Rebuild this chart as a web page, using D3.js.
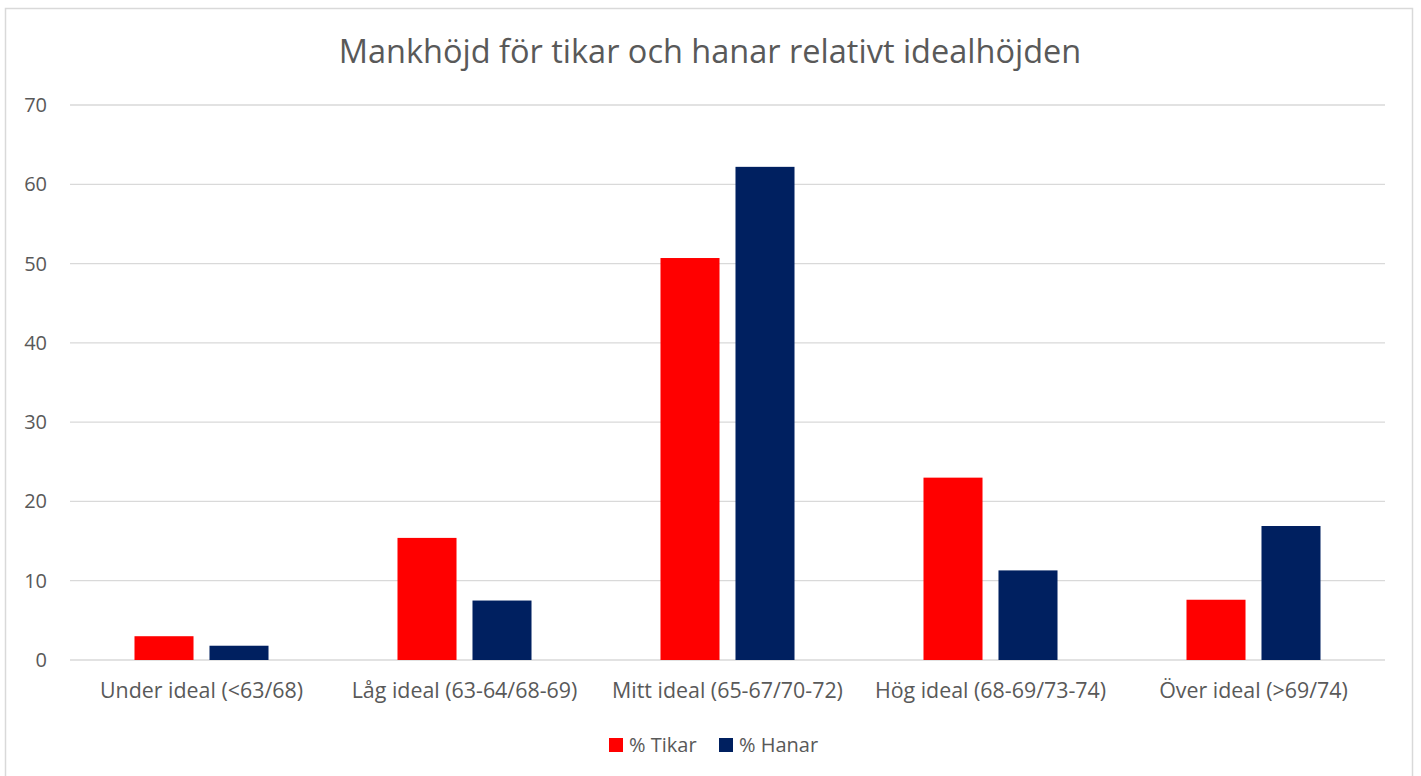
<html>
  <head>
    <style>
      body {
        margin: 0;
        background: #fff;
      }
      text {
        font-family: "Open Sans", sans-serif;
        fill: #595959;
      }
    </style>
  </head>
  <body>
    <script src="https://d3js.org/d3.v7.min.js"></script>
    <script>
      var width = 1421, height = 776;

      var categories = ["Under ideal (<63/68)", "Låg ideal (63-64/68-69)", "Mitt ideal (65-67/70-72)", "Hög ideal (68-69/73-74)", "Över ideal (>69/74)"];
      var seriesNames = ["% Tikar", "% Hanar"];
      var tikar = [3.0, 15.4, 50.7, 23.0, 7.6];
      var hanar = [1.8, 7.5, 62.2, 11.3, 16.9];
      var yTicks = [0, 10, 20, 30, 40, 50, 60, 70];
      var colors = ["#ff0000", "#002060"];
      var title = "Mankhöjd för tikar och hanar relativt idealhöjden";

      var margin = {left: 70, right: 36, top: 105, bottom: 116};

      var svg = d3.select("body").append("svg")
          .attr("width", width)
          .attr("height", height);

      // chart frame
      svg.append("rect")
          .attr("x", 5.5)
          .attr("y", 8.5)
          .attr("width", 1407)
          .attr("height", 780)
          .attr("fill", "none")
          .attr("stroke", "#d9d9d9")
          .attr("stroke-width", 1.5);

      var x0 = d3.scaleBand()
          .domain(categories)
          .range([margin.left, width - margin.right]);

      var x1 = d3.scaleBand()
          .domain(seriesNames)
          .range([0, x0.bandwidth()])
          .paddingInner(0.213)
          .paddingOuter(0.86);

      var y = d3.scaleLinear()
          .domain([0, 70])
          .range([height - margin.bottom, margin.top]);

      // gridlines
      svg.append("g")
          .selectAll("line")
          .data(yTicks)
        .enter().append("line")
          .attr("x1", margin.left)
          .attr("x2", width - margin.right)
          .attr("y1", function(d){ return y(d); })
          .attr("y2", function(d){ return y(d); })
          .attr("stroke", "#d9d9d9")
          .attr("stroke-width", 1.3);

      // y tick labels
      svg.append("g")
          .selectAll("text")
          .data(yTicks)
        .enter().append("text")
          .attr("x", 47)
          .attr("y", function(d){ return y(d); })
          .attr("dy", "0.35em")
          .attr("text-anchor", "end")
          .style("font-size", "20px")
          .text(function(d){ return d; });

      var rows = categories.map(function(c, i){
        return {cat: c, values: [{key: seriesNames[0], v: tikar[i]}, {key: seriesNames[1], v: hanar[i]}]};
      });

      var group = svg.append("g")
          .selectAll("g")
          .data(rows)
        .enter().append("g")
          .attr("transform", function(d){ return "translate(" + x0(d.cat) + ",0)"; });

      group.selectAll("rect")
          .data(function(d){ return d.values; })
        .enter().append("rect")
          .attr("x", function(d){ return x1(d.key); })
          .attr("width", x1.bandwidth())
          .attr("y", function(d){ return y(d.v); })
          .attr("height", function(d){ return y(0) - y(d.v); })
          .attr("fill", function(d, i){ return colors[i]; });

      // x labels
      svg.append("g")
          .selectAll("text")
          .data(categories)
        .enter().append("text")
          .attr("x", function(d){ return x0(d) + x0.bandwidth() / 2; })
          .attr("y", 698)
          .attr("text-anchor", "middle")
          .style("font-size", "21.4px")
          .text(function(d){ return d; });

      // title
      svg.append("text")
          .attr("x", 710)
          .attr("y", 63)
          .attr("text-anchor", "middle")
          .style("font-size", "32.5px")
          .text(title);

      // legend
      var legendX = [609, 719];
      var legend = svg.append("g")
          .selectAll("g")
          .data(seriesNames)
        .enter().append("g")
          .attr("transform", function(d, i){ return "translate(" + legendX[i] + ",738)"; });

      legend.append("rect")
          .attr("width", 14)
          .attr("height", 14)
          .attr("fill", function(d, i){ return colors[i]; });

      legend.append("text")
          .attr("x", 20)
          .attr("y", 7)
          .attr("dy", "0.35em")
          .style("font-size", "20px")
          .text(function(d){ return d; });
    </script>
  </body>
</html>
